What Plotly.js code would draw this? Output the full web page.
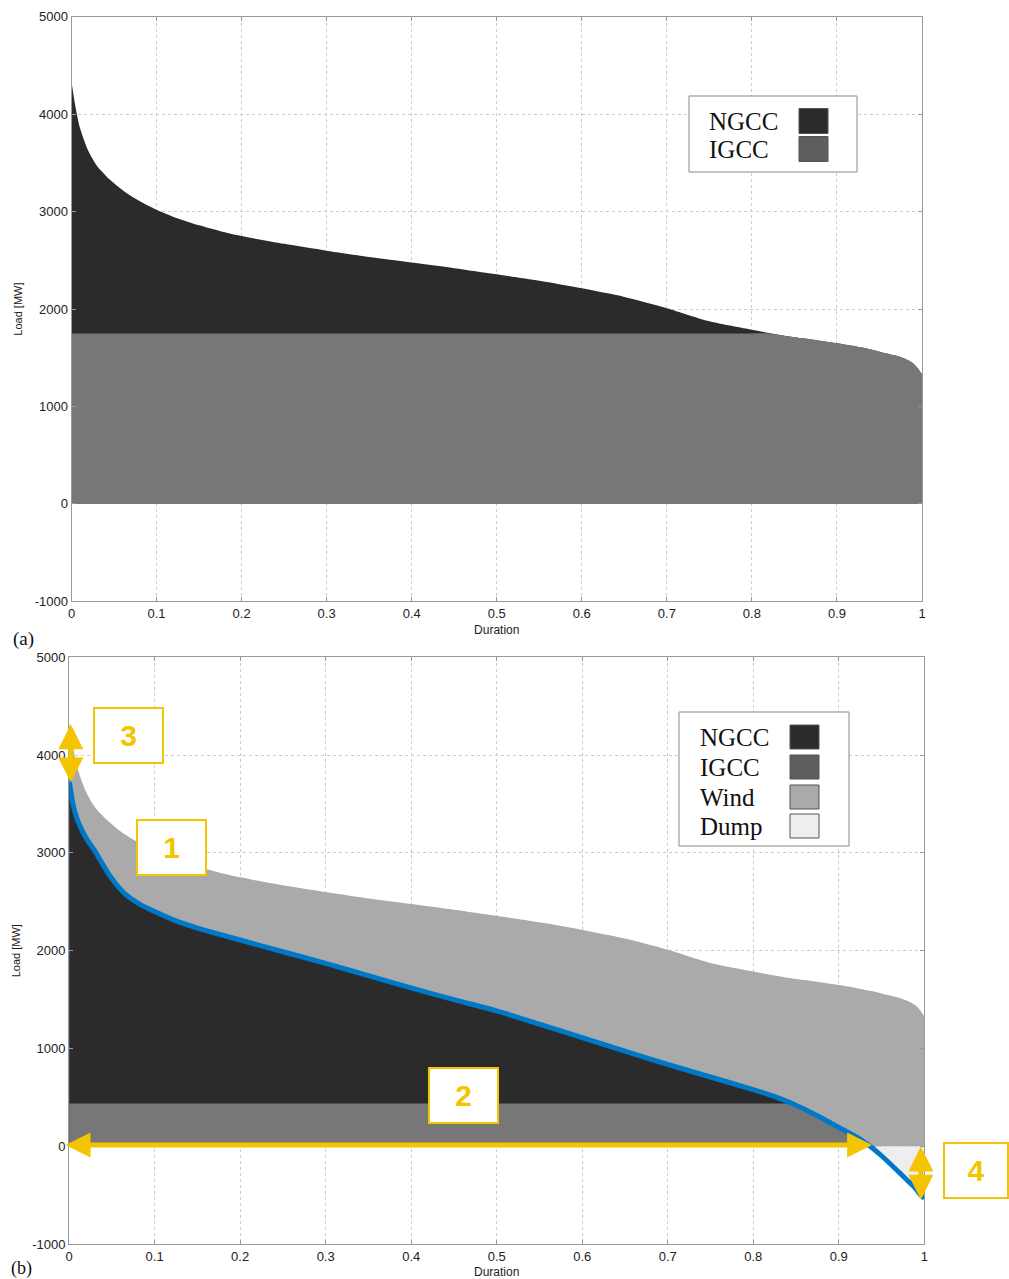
<!DOCTYPE html>
<html>
<head>
<meta charset="utf-8">
<script src="https://cdn.plot.ly/plotly-3.0.1.min.js"></script>
<style>
  html, body { margin: 0; padding: 0; background: #ffffff; }
  #chart { width: 1009px; height: 1279px; }
</style>
</head>
<body>
<div id="chart"></div>
<script>
// ---------------- data ----------------
const duration = [0, 0.005, 0.01, 0.02, 0.03, 0.045, 0.055, 0.065, 0.08, 0.1, 0.125, 0.15, 0.175, 0.2, 0.25, 0.3, 0.35, 0.4, 0.45, 0.5, 0.55, 0.6, 0.65, 0.7, 0.75, 0.8, 0.82, 0.84, 0.86, 0.88, 0.9, 0.92, 0.937, 0.95, 0.97, 0.98, 0.99, 0.995, 1.0];
const loadMW = [4335, 4060, 3860, 3620, 3470, 3330, 3255, 3190, 3110, 3020, 2930, 2860, 2800, 2750, 2670, 2600, 2535, 2478, 2420, 2357, 2290, 2213, 2125, 2010, 1875, 1788, 1755, 1725, 1700, 1675, 1649, 1620, 1590, 1563, 1520, 1490, 1440, 1392, 1330];
const netLoadMW = [3744, 3480, 3330, 3150, 3020, 2800, 2680, 2585, 2490, 2400, 2305, 2232, 2170, 2110, 1990, 1871, 1745, 1620, 1500, 1385, 1250, 1111, 975, 838, 710, 581, 525, 460, 380, 290, 195, 100, 0, -95, -260, -345, -430, -490, -530];
const igccTopMW = 1750;
const igccBottomMW = 440;
const xTicks = [0, 0.1, 0.2, 0.3, 0.4, 0.5, 0.6, 0.7, 0.8, 0.9, 1];
const xTickLabels = ['0', '0.1', '0.2', '0.3', '0.4', '0.5', '0.6', '0.7', '0.8', '0.9', '1'];
const yTicks = [-1000, 0, 1000, 2000, 3000, 4000, 5000];
const yTickLabels = ['-1000', '0', '1000', '2000', '3000', '4000', '5000'];
const legendTop = ['NGCC', 'IGCC'];
const legendBottom = ['NGCC', 'IGCC', 'Wind', 'Dump'];
const calloutLabels = ['3', '1', '2', '4'];

// ---------------- styles ----------------
const C = {
  ngcc: '#2b2b2b', igccArea: '#777777', igccSwatch: '#5e5e5e',
  wind: '#aaaaaa', dump: '#eeeeee', blue: '#0078c8', yellow: '#f5c400',
  grid: '#cccccc', axis: '#999999'
};
const W = 1009, H = 1279;
const px = v => v / W;
const py = v => 1 - v / H;
const SM = 0.7;

const traces = [
  // top chart
  {x: duration, y: loadMW, xaxis: 'x', yaxis: 'y', mode: 'none', fill: 'tozeroy', fillcolor: C.ngcc, line: {shape: 'spline', smoothing: SM}, name: 'NGCC', hoverinfo: 'skip'},
  {x: duration, y: loadMW.map(v => Math.min(v, igccTopMW)), xaxis: 'x', yaxis: 'y', mode: 'none', fill: 'tozeroy', fillcolor: C.igccArea, line: {shape: 'spline', smoothing: SM}, name: 'IGCC', hoverinfo: 'skip'},
  // bottom chart
  {x: duration, y: loadMW, xaxis: 'x2', yaxis: 'y2', mode: 'none', fill: 'tozeroy', fillcolor: C.wind, line: {shape: 'spline', smoothing: SM}, name: 'Wind', hoverinfo: 'skip'},
  {x: duration, y: netLoadMW.map(v => Math.max(v, 0)), xaxis: 'x2', yaxis: 'y2', mode: 'none', fill: 'tozeroy', fillcolor: C.ngcc, line: {shape: 'spline', smoothing: SM}, name: 'NGCC', hoverinfo: 'skip'},
  {x: duration, y: netLoadMW.map(v => Math.min(Math.max(v, 0), igccBottomMW)), xaxis: 'x2', yaxis: 'y2', mode: 'none', fill: 'tozeroy', fillcolor: C.igccArea, name: 'IGCC', hoverinfo: 'skip'},
  {x: duration, y: netLoadMW.map(v => Math.min(v, 0)), xaxis: 'x2', yaxis: 'y2', mode: 'none', fill: 'tozeroy', fillcolor: C.dump, line: {shape: 'spline', smoothing: SM}, name: 'Dump', hoverinfo: 'skip'},
  {x: duration, y: netLoadMW, xaxis: 'x2', yaxis: 'y2', mode: 'lines', line: {color: C.blue, width: 5, shape: 'spline', smoothing: SM}, cliponaxis: false, name: 'Net load', hoverinfo: 'skip'}
];

function xAxis(domain, anchor) {
  return {
    domain: domain, anchor: anchor, range: [0, 1],
    tickmode: 'array', tickvals: xTicks, ticktext: xTickLabels,
    showgrid: true, gridcolor: C.grid, griddash: 'dot', gridwidth: 1,
    zeroline: false, showline: true, linecolor: C.axis, linewidth: 1, mirror: 'ticks',
    ticks: 'inside', ticklen: 4, tickcolor: C.axis,
    tickfont: {family: 'Liberation Sans, Arial, sans-serif', size: 13, color: '#222'},
    title: {text: 'Duration', font: {family: 'Liberation Sans, Arial, sans-serif', size: 12, color: '#222'}, standoff: 5}
  };
}
function yAxis(domain, anchor) {
  return {
    domain: domain, anchor: anchor, range: [-1000, 5000],
    tickmode: 'array', tickvals: yTicks, ticktext: yTickLabels,
    showgrid: true, gridcolor: C.grid, griddash: 'dot', gridwidth: 1,
    zeroline: false, showline: true, linecolor: C.axis, linewidth: 1, mirror: 'ticks',
    ticks: 'inside', ticklen: 4, tickcolor: C.axis,
    tickfont: {family: 'Liberation Sans, Arial, sans-serif', size: 13, color: '#222'},
    title: {text: 'Load [MW]', font: {family: 'Liberation Sans, Arial, sans-serif', size: 11, color: '#222'}, standoff: 9}
  };
}

const shapes = [];
const annotations = [];

// manual legends (swatches to the right of labels, as in the reference)
function legend(box, labels, swatchColors, textX, rowsY, swX0, swX1, swH) {
  shapes.push({type: 'rect', xref: 'paper', yref: 'paper', x0: px(box[0]), x1: px(box[1]), y0: py(box[3]), y1: py(box[2]),
    line: {color: '#888888', width: 1}, fillcolor: '#ffffff', layer: 'above'});
  labels.forEach((lab, i) => {
    annotations.push({xref: 'paper', yref: 'paper', x: px(textX), y: py(rowsY[i]), xanchor: 'left', yanchor: 'middle',
      text: lab, showarrow: false, font: {family: 'Liberation Serif, Times New Roman, serif', size: 25, color: '#111'}});
    shapes.push({type: 'rect', xref: 'paper', yref: 'paper', x0: px(swX0), x1: px(swX1),
      y0: py(rowsY[i] + swH / 2), y1: py(rowsY[i] - swH / 2),
      line: {color: '#555555', width: 1}, fillcolor: swatchColors[i], layer: 'above'});
  });
}
legend([689, 857, 96, 172], legendTop, [C.ngcc, C.igccSwatch], 707, [121, 149], 799, 828, 25);
legend([679, 849, 712, 846], legendBottom, [C.ngcc, C.igccSwatch, C.wind, C.dump], 698, [737, 767, 797, 826], 790, 819, 24);

// panel letters
annotations.push({xref: 'paper', yref: 'paper', x: px(11), y: py(626), xanchor: 'left', yanchor: 'top', text: '(a)', showarrow: false,
  font: {family: 'Liberation Serif, Times New Roman, serif', size: 19, color: '#111'}});
annotations.push({xref: 'paper', yref: 'paper', x: px(9), y: py(1256), xanchor: 'left', yanchor: 'top', text: '(b)', showarrow: false,
  font: {family: 'Liberation Serif, Times New Roman, serif', size: 18, color: '#111'}});

// yellow double arrows (bottom chart, data coordinates)
function dblArrow(x0, y0, x1, y1) {
  annotations.push({xref: 'x2', yref: 'y2', axref: 'x2', ayref: 'y2', x: x1, y: y1, ax: x0, ay: y0, text: '',
    showarrow: true, arrowside: 'end+start', arrowhead: 2, startarrowhead: 2, arrowsize: 1, startarrowsize: 1,
    arrowwidth: 5, arrowcolor: C.yellow, standoff: 0, startstandoff: 0});
}
dblArrow(0.002, 4330, 0.002, 3720);
dblArrow(-0.006, 15, 0.939, 15);
dblArrow(0.996, 15, 0.996, -545);

// numbered callout boxes
const boxStyle = {showarrow: false, height: 53, borderpad: 0, bgcolor: '#ffffff', bordercolor: C.yellow, borderwidth: 2,
  xanchor: 'center', yanchor: 'middle', font: {family: 'Liberation Sans, Arial, sans-serif', size: 30, color: C.yellow}};
const calloutPos = [[0.0698, 4204], [0.1197, 3057], [0.4617, 520]];
calloutPos.forEach((p, i) => {
  annotations.push(Object.assign({}, boxStyle, {xref: 'x2', yref: 'y2', x: p[0], y: p[1], width: 67, text: '<b>' + calloutLabels[i] + '</b>'}));
});
annotations.push(Object.assign({}, boxStyle, {xref: 'paper', yref: 'paper', x: px(975.5), y: py(1170.8), width: 62, text: '<b>' + calloutLabels[3] + '</b>'}));

const layout = {
  width: W, height: H,
  margin: {l: 0, r: 0, t: 0, b: 0},
  paper_bgcolor: '#ffffff', plot_bgcolor: '#ffffff',
  showlegend: false,
  xaxis: xAxis([px(71.5), px(922)], 'y'),
  yaxis: yAxis([py(601.3), py(16.9)], 'x'),
  xaxis2: xAxis([px(69.1), px(924.3)], 'y2'),
  yaxis2: yAxis([py(1244.3), py(657.2)], 'x2'),
  shapes: shapes,
  annotations: annotations
};

Plotly.newPlot('chart', traces, layout, {staticPlot: true, displayModeBar: false});
</script>
</body>
</html>
